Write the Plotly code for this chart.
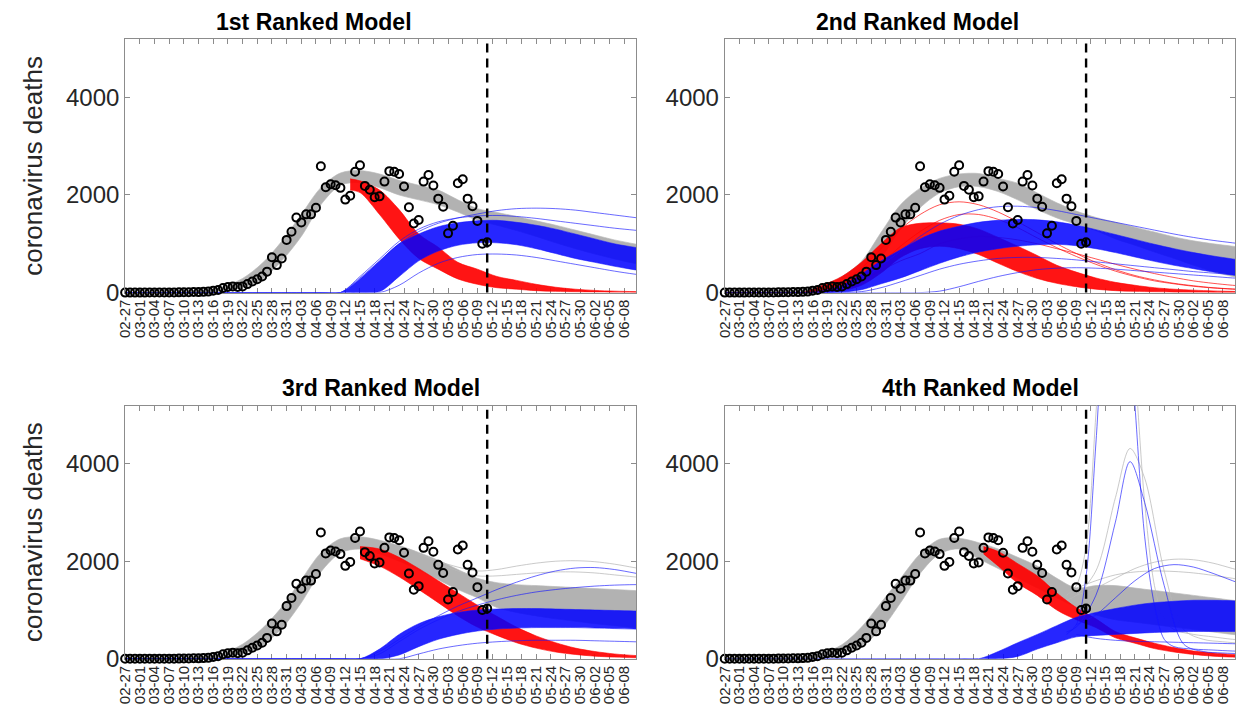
import plotly.graph_objects as go

W, H = 1238, 717
FONT = "Liberation Sans, Arial, Helvetica, sans-serif"
TXT = "#262626"
AX = "#8c8c8c"

# ---------------------------------------------------------------- axis labels
DAY_TICKS = list(range(0, 103, 3))
DATE_LABELS = ["02-27", "03-01", "03-04", "03-07", "03-10", "03-13", "03-16",
               "03-19", "03-22", "03-25", "03-28", "03-31", "04-03", "04-06",
               "04-09", "04-12", "04-15", "04-18", "04-21", "04-24", "04-27",
               "04-30", "05-03", "05-06", "05-09", "05-12", "05-15", "05-18",
               "05-21", "05-24", "05-27", "05-30", "06-02", "06-05", "06-08"]
TITLES = ["1st Ranked Model", "2nd Ranked Model", "3rd Ranked Model", "4th Ranked Model"]
Y_TICKS = [0, 2000, 4000]
FORECAST_START = 74          # day index of 05-11

# ------------------------------------------------- observed daily deaths
OBS_DAYS = list(range(75))   # 02-27 .. 05-11
OBS_DEATHS = [0, 0, 0, 0, 0, 1, 2, 2, 3, 4, 4, 5, 8, 8, 12, 10, 15, 20,
              40, 55, 94, 114, 127, 114, 127, 174, 228, 275, 329, 429, 724, 563,
              698, 1080, 1247, 1536, 1435, 1603, 1603, 1737, 2589, 2160, 2220,
              2200, 2146, 1905, 1985, 2475, 2609, 2186, 2106, 1952, 1972, 2274,
              2488, 2475, 2428, 2173, 1750, 1415, 1489, 2274, 2408, 2193, 1925,
              1757, 1214, 1368, 2240, 2321, 1925, 1770, 1469, 1000, 1033]

# common day grid of the simulated trajectories (every 4 days)
GRID = list(range(0, 109, 4))

# ------------------------------------------------- model 1 trajectories
P1_GRAY_LO = [0, 0, 1, 4, 15, 40, 110, 270, 650, 1150, 1800, 2200, 2250, 2150,
              2000, 1900, 1800, 1650, 1480, 1380, 1270, 1150, 1020, 900, 790, 690, 600, 520]
P1_GRAY_HI = [2, 3, 6, 15, 45, 120, 290, 600, 1050, 1600, 2150, 2450, 2500, 2430,
              2300, 2200, 2100, 1900, 1720, 1640, 1560, 1470, 1380, 1280, 1180, 1080, 1000, 920]
P1_RED_DAYS = [46, 48, 52, 56, 60, 64, 68, 72, 76, 80, 84, 88, 92, 96, 100, 104, 108]
P1_RED_LO = [2100, 2050, 1600, 1100, 700, 480, 280, 170, 100, 70, 40, 25, 15, 10, 6, 4, 3]
P1_RED_HI = [2330, 2290, 2100, 1700, 1200, 930, 620, 480, 330, 250, 170, 110, 70, 45, 30, 20, 15]
P1_BLUE_LO = [0] * 13 + [20, 330, 650, 850, 970, 1020, 1020, 980, 900, 800, 700, 620, 540, 470, 410]
P1_BLUE_HI = [0] * 12 + [280, 640, 1000, 1200, 1350, 1430, 1470, 1480, 1440, 1380, 1300,
                         1200, 1100, 1000, 930, 870]
P1_BLUE_TOP = [0] * 12 + [300, 650, 1000, 1250, 1420, 1530, 1610, 1680, 1720, 1730, 1720,
                          1690, 1640, 1590, 1540, 1490]
P1_BLUE_MID = [0] * 12 + [330, 690, 1050, 1300, 1450, 1530, 1570, 1580, 1560, 1520, 1470,
                          1420, 1370, 1320, 1280, 1240]
P1_BLUE_LOW = [0] * 13 + [0, 150, 400, 600, 720, 780, 790, 770, 720, 650, 580, 510, 440, 380, 330]

# ------------------------------------------------- model 2 trajectories
P2_GRAY_LO = [0, 0, 1, 5, 15, 45, 90, 200, 700, 1300, 1740, 2040, 2170, 2170, 2070,
              1900, 1700, 1530, 1400, 1270, 1100, 970, 830, 700, 560, 430, 330, 260]
P2_GRAY_HI = [2, 4, 8, 20, 60, 150, 330, 640, 1230, 1800, 2140, 2340, 2430, 2440, 2340,
              2240, 2040, 1840, 1670, 1540, 1440, 1340, 1240, 1140, 1060, 1000, 950, 900]
P2_RED_LO = [0, 0, 0, 0, 0, 10, 40, 150, 400, 720, 900, 950, 900, 780, 600, 430, 290,
             190, 120, 70, 40, 25, 15, 8, 5, 3, 2, 1]
P2_RED_HI = [0, 0, 0, 0, 2, 150, 330, 620, 1000, 1330, 1420, 1430, 1400, 1300, 1130,
             950, 760, 560, 420, 300, 210, 150, 100, 70, 50, 35, 25, 18]
P2_RED_TOP = [0, 0, 0, 0, 0, 60, 200, 500, 900, 1300, 1600, 1800, 1860, 1800, 1650,
              1450, 1230, 1000, 800, 620, 470, 350, 260, 190, 140, 100, 75, 55]
P2_RED_SECOND = [0, 0, 0, 0, 0, 30, 120, 300, 600, 950, 1250, 1480, 1600, 1600, 1500,
                 1330, 1120, 920, 740, 580, 440, 330, 240, 180, 130, 95, 70, 50]
P2_RED_LATE = [0, 0, 0, 0, 0, 20, 100, 250, 450, 650, 800, 1000, 1100, 1150, 1130,
               1080, 1000, 900, 800, 690, 580, 480, 390, 310, 240, 190, 150, 120]
P2_BLUE_LO = [0, 0, 0, 0, 0, 0, 10, 60, 180, 300, 450, 600, 730, 830, 900, 950, 980,
              990, 960, 900, 820, 730, 640, 560, 490, 420, 360, 310]
P2_BLUE_HI = [0, 0, 0, 0, 0, 40, 150, 380, 650, 880, 1100, 1260, 1360, 1440, 1480,
              1500, 1490, 1450, 1380, 1290, 1190, 1090, 990, 900, 820, 750, 690, 630]
P2_BLUE_TOP = [0, 0, 0, 0, 0, 0, 50, 250, 550, 850, 1150, 1400, 1580, 1700, 1760,
               1770, 1740, 1680, 1600, 1520, 1440, 1360, 1280, 1200, 1130, 1070, 1020, 970]
P2_BLUE_MIDLOW = [0, 0, 0, 0, 0, 0, 0, 20, 100, 220, 350, 480, 580, 650, 700, 720,
                  720, 700, 670, 630, 590, 550, 510, 470, 430, 400, 370, 340]
P2_BLUE_LATE = [0, 0, 0, 0, 0, 0, 0, 0, 0, 0, 0, 30, 120, 230, 330, 410, 470, 500,
                510, 500, 480, 450, 420, 390, 360, 330, 300, 280]

# ------------------------------------------------- model 3 trajectories
P3_GRAY_LO = [0, 0, 1, 4, 15, 40, 110, 270, 620, 1150, 1780, 2170, 2250, 2150, 2000,
              1820, 1620, 1420, 1250, 1050, 950, 880, 820, 770, 720, 680, 640, 600]
P3_GRAY_HI = [2, 3, 6, 15, 45, 120, 300, 620, 1060, 1620, 2170, 2460, 2500, 2430, 2320,
              2180, 2020, 1830, 1650, 1560, 1520, 1500, 1480, 1460, 1440, 1420, 1400, 1380]
P3_GRAY_TOP = [None] * 15 + [2150, 2000, 1880, 1800, 1830, 1900, 1960, 2000, 2010,
                             1990, 1940, 1870, 1800]
P3_GRAY_SECOND = [None] * 16 + [1950, 1800, 1700, 1700, 1730, 1760, 1780, 1780,
                                1760, 1720, 1680, 1640]
P3_RED_DAYS = [48, 52, 56, 60, 64, 68, 72, 76, 80, 84, 88, 92, 96, 100, 104, 108]
P3_RED_LO = [2050, 1900, 1680, 1420, 1150, 880, 650, 480, 330, 220, 140, 90, 55, 35, 22, 14]
P3_RED_HI = [2300, 2250, 2080, 1850, 1600, 1350, 1100, 870, 650, 470, 330, 220, 150, 100, 70, 50]
P3_BLUE_LO = [0] * 14 + [80, 250, 400, 500, 570, 610, 630, 640, 640, 640, 630, 620, 610, 600]
P3_BLUE_HI = [0] * 13 + [200, 500, 720, 860, 950, 1000, 1020, 1030, 1030, 1020, 1010,
                         1000, 990, 980, 970]
P3_BLUE_TOP = [0] * 13 + [150, 400, 650, 880, 1080, 1250, 1420, 1570, 1700, 1800, 1860,
                          1870, 1830, 1760, 1680]
P3_BLUE_SECOND = [0] * 13 + [100, 350, 600, 800, 970, 1100, 1210, 1300, 1370, 1420,
                             1460, 1490, 1510, 1520, 1520]
P3_BLUE_LOW = [0] * 14 + [0, 100, 200, 270, 320, 350, 370, 380, 380, 380, 370, 360, 350, 340]

# ------------------------------------------------- model 4 trajectories
P4_GRAY_LO = [0, 0, 1, 4, 15, 40, 110, 270, 600, 1150, 1750, 2150, 2250, 2050, 1850,
              1650, 1450, 1250, 1050, 900, 800, 750, 700, 650, 600, 550, 500, 470]
P4_GRAY_HI = [2, 3, 6, 15, 45, 120, 290, 650, 1150, 1650, 2150, 2450, 2470, 2380, 2250,
              2080, 1900, 1650, 1450, 1500, 1500, 1450, 1400, 1350, 1300, 1250, 1200, 1160]
P4_GRAY_BROAD = [None] * 18 + [1300, 1450, 1650, 1850, 1980, 2040, 2030, 1960, 1850, 1740]
P4_GRAY_UPPER = [None] * 18 + [1450, 1600, 1720, 1780, 1800, 1790, 1760, 1710, 1650, 1590]
P4_RED_DAYS = [53, 56, 60, 64, 68, 72, 76, 80, 84, 88, 92, 96, 100, 104, 108]
P4_RED_LO = [2150, 1900, 1550, 1300, 1000, 800, 640, 430, 320, 210, 140, 90, 55, 35, 25]
P4_RED_HI = [2300, 2200, 1950, 1700, 1350, 1050, 820, 560, 430, 320, 230, 160, 120, 90, 70]
P4_BLUE_LO = [0] * 15 + [50, 200, 330, 450, 480, 500, 520, 540, 550, 560, 560, 560, 550]
P4_BLUE_HI = [0] * 14 + [150, 330, 500, 680, 850, 950, 1030, 1100, 1150, 1180, 1200,
                         1200, 1190, 1170]
P4_BLUE_BROAD = [None] * 18 + [700, 900, 1250, 1600, 1850, 1930, 1880, 1750, 1600, 1450]
P4_BLUE_LOW = [None] * 18 + [500, 420, 380, 360, 350, 340, 330, 320, 310, 300]
P4_SPIKE_DAYS = [70, 72, 74, 76, 78, 80, 82, 84, 86, 88, 90, 92, 96, 100, 104, 108]
P4_BLUE_SPIKE = [500, 700, 1700, 4400, 7500, 9000, 8000, 5200, 2500, 1100, 400, 250,
                 200, 180, 160, 150]
P4_GRAY_SPIKE = [1300, 1500, 2300, 5000, 8000, 9500, 8500, 6000, 3200, 1500, 800, 600,
                 500, 450, 400, 380]
P4_BELL_DAYS = [70, 72, 76, 80, 83, 86, 90, 94, 98, 102, 108]
P4_BLUE_BELL = [550, 650, 1300, 2800, 4040, 3200, 1500, 300, 150, 120, 100]
P4_GRAY_BELL = [1200, 1300, 1800, 3300, 4310, 3700, 1800, 600, 400, 350, 300]

GRAY_FILL, GRAY_LINE = "rgba(165,165,165,0.85)", "rgba(185,185,185,0.95)"
RED_FILL, RED_LINE = "rgba(255,0,0,0.92)", "rgba(255,0,0,0.85)"
BLUE_FILL, BLUE_LINE = "rgba(0,0,255,0.85)", "rgba(20,20,255,0.8)"

# panel frames in pixels: (left, right, top, bottom)
FRAMES = [(117, 632, 40, 298), (721, 1235, 40, 298),
          (117, 632, 413, 671), (721, 1235, 413, 671)]
TITLE_POS = [(307, 22), (915, 22), (375, 395), (979, 395)]

fig = go.Figure()


def ax_names(i):
    return ("x" if i == 0 else f"x{i + 1}"), ("y" if i == 0 else f"y{i + 1}")


def add_line(i, days, vals, color, width=0.8):
    xa, ya = ax_names(i)
    pts = [(d, v) for d, v in zip(days, vals) if v is not None]
    fig.add_trace(go.Scatter(
        x=[p[0] for p in pts], y=[p[1] for p in pts], mode="lines",
        line=dict(color=color, width=width, shape="spline", smoothing=0.9),
        xaxis=xa, yaxis=ya, hoverinfo="skip", showlegend=False))


def add_band(i, days, lo, hi, fill, edge):
    xa, ya = ax_names(i)
    pts = [(d, a, b) for d, a, b in zip(days, lo, hi) if a is not None]
    xs = [p[0] for p in pts]
    fig.add_trace(go.Scatter(
        x=xs, y=[p[1] for p in pts], mode="lines",
        line=dict(color=edge, width=0.7, shape="spline", smoothing=0.9),
        xaxis=xa, yaxis=ya, hoverinfo="skip", showlegend=False))
    fig.add_trace(go.Scatter(
        x=xs, y=[p[2] for p in pts], mode="lines", fill="tonexty", fillcolor=fill,
        line=dict(color=edge, width=0.7, shape="spline", smoothing=0.9),
        xaxis=xa, yaxis=ya, hoverinfo="skip", showlegend=False))


# model 1
add_band(0, GRID, P1_GRAY_LO, P1_GRAY_HI, GRAY_FILL, GRAY_LINE)
add_band(0, P1_RED_DAYS, P1_RED_LO, P1_RED_HI, RED_FILL, RED_LINE)
add_band(0, GRID, P1_BLUE_LO, P1_BLUE_HI, BLUE_FILL, BLUE_LINE)
for s in (P1_BLUE_TOP, P1_BLUE_MID, P1_BLUE_LOW):
    add_line(0, GRID, s, BLUE_LINE)

# model 2
add_band(1, GRID, P2_GRAY_LO, P2_GRAY_HI, GRAY_FILL, GRAY_LINE)
add_band(1, GRID, P2_RED_LO, P2_RED_HI, RED_FILL, RED_LINE)
for s in (P2_RED_TOP, P2_RED_SECOND, P2_RED_LATE):
    add_line(1, GRID, s, RED_LINE)
add_band(1, GRID, P2_BLUE_LO, P2_BLUE_HI, BLUE_FILL, BLUE_LINE)
for s in (P2_BLUE_TOP, P2_BLUE_MIDLOW, P2_BLUE_LATE):
    add_line(1, GRID, s, BLUE_LINE)

# model 3
add_band(2, GRID, P3_GRAY_LO, P3_GRAY_HI, GRAY_FILL, GRAY_LINE)
for s in (P3_GRAY_TOP, P3_GRAY_SECOND):
    add_line(2, GRID, s, GRAY_LINE)
add_band(2, P3_RED_DAYS, P3_RED_LO, P3_RED_HI, RED_FILL, RED_LINE)
add_band(2, GRID, P3_BLUE_LO, P3_BLUE_HI, BLUE_FILL, BLUE_LINE)
for s in (P3_BLUE_TOP, P3_BLUE_SECOND, P3_BLUE_LOW):
    add_line(2, GRID, s, BLUE_LINE)

# model 4
add_band(3, GRID, P4_GRAY_LO, P4_GRAY_HI, GRAY_FILL, GRAY_LINE)
for s in (P4_GRAY_BROAD, P4_GRAY_UPPER):
    add_line(3, GRID, s, GRAY_LINE)
add_line(3, P4_SPIKE_DAYS, P4_GRAY_SPIKE, GRAY_LINE)
add_line(3, P4_BELL_DAYS, P4_GRAY_BELL, GRAY_LINE)
add_band(3, P4_RED_DAYS, P4_RED_LO, P4_RED_HI, RED_FILL, RED_LINE)
add_band(3, GRID, P4_BLUE_LO, P4_BLUE_HI, BLUE_FILL, BLUE_LINE)
for s in (P4_BLUE_BROAD, P4_BLUE_LOW):
    add_line(3, GRID, s, BLUE_LINE)
add_line(3, P4_SPIKE_DAYS, P4_BLUE_SPIKE, BLUE_LINE)
add_line(3, P4_BELL_DAYS, P4_BLUE_BELL, BLUE_LINE)

annotations = []
shapes = []
for i, (l, r, t, b) in enumerate(FRAMES):
    xa, ya = ax_names(i)
    fig.add_trace(go.Scatter(
        x=OBS_DAYS, y=OBS_DEATHS, mode="markers", cliponaxis=False,
        marker=dict(symbol="circle-open", size=8, color="black", line=dict(width=2, color="black")),
        xaxis=xa, yaxis=ya, hoverinfo="skip", showlegend=False))
    xd = [l / W, r / W]
    yd = [1 - b / H, 1 - t / H]
    key = "" if i == 0 else str(i + 1)
    fig.layout["xaxis" + key] = dict(
        domain=xd, anchor=ya, range=[0, 104.5], tickmode="array",
        tickvals=DAY_TICKS, ticktext=DATE_LABELS, tickangle=-90,
        ticks="inside", ticklen=5, tickcolor=AX, linecolor=AX, linewidth=1,
        mirror="ticks", showgrid=False, zeroline=False, layer="below traces",
        tickfont=dict(family=FONT, size=15, color=TXT))
    fig.layout["yaxis" + key] = dict(
        domain=yd, anchor=xa, range=[0, 5190], tickmode="array", tickvals=Y_TICKS,
        ticks="inside", ticklen=5, tickcolor=AX, linecolor=AX, linewidth=1,
        mirror="ticks", showgrid=False, zeroline=False,
        tickfont=dict(family=FONT, size=24, color=TXT))
    shapes.append(dict(type="line", xref=xa, yref=f"{ya} domain", x0=FORECAST_START,
                       x1=FORECAST_START, y0=0, y1=1, layer="above",
                       line=dict(color="black", width=2.4, dash="9px,6px")))
    tx, ty = TITLE_POS[i]
    annotations.append(dict(text=f"<b>{TITLES[i]}</b>", x=tx / W, y=1 - ty / H,
                            xref="paper", yref="paper", showarrow=False,
                            xanchor="center", yanchor="middle",
                            font=dict(family=FONT, size=23, color="black")))
    if i in (0, 2):
        annotations.append(dict(text="coronavirus deaths", x=24 / W, y=1 - (t + b) / 2 / H,
                                xref="paper", yref="paper", showarrow=False, textangle=-90,
                                xanchor="center", yanchor="middle",
                                font=dict(family=FONT, size=26, color=TXT)))

fig.update_layout(width=W, height=H, margin=dict(l=0, r=0, t=0, b=0),
                  paper_bgcolor="white", plot_bgcolor="white",
                  annotations=annotations, shapes=shapes, showlegend=False)

fig.write_html("out.html")
